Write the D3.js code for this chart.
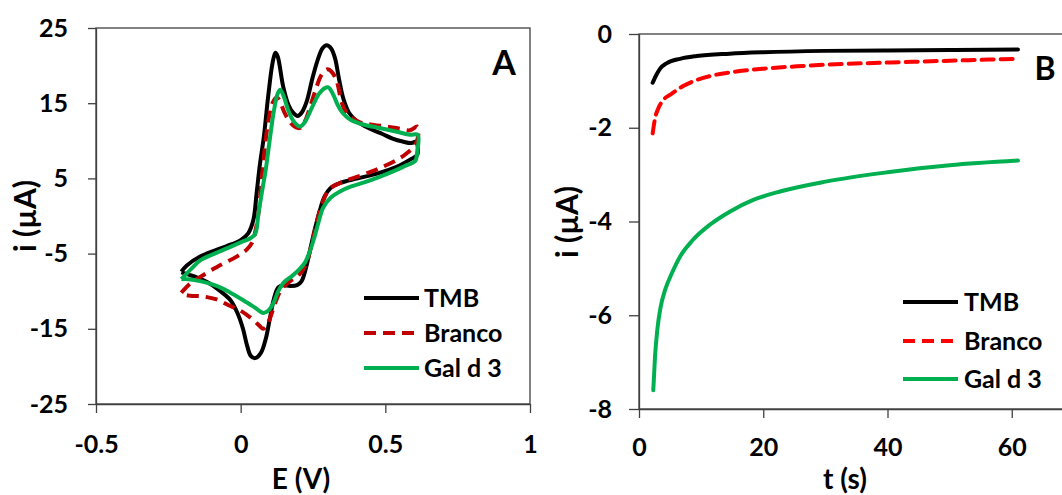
<!DOCTYPE html>
<html>
<head>
<meta charset="utf-8">
<script src="https://cdn.jsdelivr.net/npm/d3@7"></script>
<style>
  body { margin: 0; background: #fff; }
  text { font-family: Lato, "Open Sans", sans-serif; font-weight: bold; fill: #000; }
</style>
</head>
<body>
<script>
////// data

// panel A: cyclic voltammograms, [E (V), i (uA)], starting at the left vertex
const cvTMB = [[-0.205,-7.4],[-0.187,-6.6],[-0.14,-5.4],[-0.09,-4.6],[-0.048,-4.0],[0.0,-3.2],[0.026,-2.3],[0.044,-0.5],
  [0.055,3.0],[0.067,7.0],[0.08,10.5],[0.095,15.9],[0.11,20.3],[0.12,21.7],[0.128,21.2],[0.147,17.2],[0.165,14.8],
  [0.182,13.7],[0.197,13.3],[0.212,13.8],[0.228,15.2],[0.248,18.3],[0.265,20.6],[0.283,22.3],[0.297,22.7],[0.312,22.3],
  [0.326,21.0],[0.34,18.2],[0.355,15.6],[0.375,13.7],[0.405,12.5],[0.447,11.6],[0.49,10.9],[0.525,10.3],[0.56,9.9],
  [0.59,9.7],[0.608,9.9],[0.612,9.2],[0.61,8.1],[0.59,7.6],[0.537,6.5],[0.477,5.7],[0.405,5.0],[0.345,4.4],[0.31,3.7],
  [0.29,2.6],[0.274,0.8],[0.258,-1.5],[0.24,-4.5],[0.225,-7.0],[0.21,-8.7],[0.195,-9.2],[0.17,-9.3],[0.147,-9.2],
  [0.13,-9.5],[0.115,-11.0],[0.1,-13.8],[0.087,-16.3],[0.07,-18.2],[0.05,-18.9],[0.035,-18.6],[0.022,-17.2],
  [0.008,-15.0],[-0.01,-13.0],[-0.035,-11.2],[-0.07,-10.0],[-0.106,-9.0],[-0.15,-8.2],[-0.18,-7.8],[-0.205,-7.5]];

const cvBranco = [[-0.205,-10.2],[-0.175,-9.0],[-0.14,-8.1],[-0.083,-6.8],[-0.014,-5.4],[0.02,-4.5],[0.04,-3.5],
  [0.052,-1.8],[0.062,0.5],[0.072,4.5],[0.082,8.5],[0.095,12.5],[0.11,15.0],[0.125,15.8],[0.135,15.3],[0.152,13.7],
  [0.17,12.5],[0.19,11.8],[0.205,11.7],[0.222,12.6],[0.24,14.5],[0.26,16.9],[0.28,18.8],[0.3,19.5],[0.318,19.0],
  [0.333,17.8],[0.35,15.0],[0.37,13.5],[0.41,12.5],[0.46,12.1],[0.505,11.9],[0.55,11.6],[0.585,11.4],[0.61,11.9],
  [0.615,11.5],[0.605,9.6],[0.573,8.3],[0.537,7.4],[0.477,6.3],[0.417,5.4],[0.357,4.6],[0.31,3.7],[0.285,2.0],
  [0.265,-0.5],[0.245,-3.8],[0.225,-6.5],[0.2,-7.9],[0.17,-8.7],[0.14,-9.8],[0.12,-11.5],[0.105,-13.2],[0.09,-14.6],
  [0.078,-15.0],[0.065,-14.6],[0.04,-13.7],[0.0,-12.6],[-0.04,-11.9],[-0.083,-11.1],[-0.13,-10.7],[-0.175,-10.6],
  [-0.2,-10.4],[-0.205,-10.2]];

const cvGal = [[-0.205,-8.4],[-0.17,-7.0],[-0.14,-5.9],[-0.09,-5.0],[-0.048,-4.3],[0.0,-3.5],[0.032,-3.0],[0.05,-2.4],
  [0.062,0.5],[0.075,3.5],[0.088,6.5],[0.1,10.0],[0.115,14.0],[0.128,16.3],[0.137,16.8],[0.148,16.0],[0.165,14.0],
  [0.185,12.5],[0.205,11.9],[0.222,12.5],[0.245,14.3],[0.27,16.2],[0.29,17.0],[0.303,17.1],[0.318,16.3],[0.335,14.8],
  [0.355,13.6],[0.38,12.8],[0.42,12.2],[0.48,11.7],[0.54,11.2],[0.585,10.8],[0.612,10.8],[0.61,8.5],[0.603,7.3],
  [0.57,6.7],[0.537,6.1],[0.48,5.2],[0.43,4.5],[0.38,3.9],[0.345,3.3],[0.31,2.4],[0.285,1.1],[0.27,-0.7],[0.255,-2.8],
  [0.24,-4.6],[0.222,-6.2],[0.2,-7.2],[0.177,-8.0],[0.15,-8.8],[0.13,-10.0],[0.113,-11.6],[0.095,-12.6],[0.078,-12.9],
  [0.05,-12.2],[0.009,-11.2],[-0.04,-10.1],[-0.083,-9.3],[-0.136,-8.7],[-0.18,-8.4],[-0.205,-8.4]];

// panel B: chronoamperometry, [t (s), i (uA)]
const caTMB = [[2.2,-1.04],[2.5,-0.95],[2.85,-0.86],[3.4,-0.74],[4.5,-0.62],[6.6,-0.53],[9.3,-0.47],[14.6,-0.42],
  [20,-0.39],[30,-0.36],[40,-0.35],[50,-0.34],[61,-0.33]];
const caBranco = [[2.2,-2.12],[2.58,-1.8],[3.1,-1.59],[3.9,-1.41],[5.3,-1.27],[7.1,-1.11],[9.3,-0.98],[12,-0.88],
  [15.7,-0.8],[20,-0.74],[25.4,-0.69],[30.7,-0.65],[40,-0.61],[50,-0.57],[61,-0.53]];
const caGal = [[2.3,-7.6],[2.58,-6.88],[2.95,-6.31],[3.49,-5.82],[4.2,-5.46],[5.3,-5.1],[6.6,-4.75],[8.7,-4.39],
  [11.4,-4.07],[14.6,-3.79],[18.4,-3.54],[22.7,-3.36],[30,-3.15],[40,-2.95],[50,-2.8],[61,-2.7]];

const seriesNames = ["TMB", "Branco", "Gal d 3"];
const ticksA_x = [-0.5, 0, 0.5, 1];
const ticksA_y = [-25, -15, -5, 5, 15, 25];
const ticksB_x = [0, 20, 40, 60];
const ticksB_y = [-8, -6, -4, -2, 0];

//////

const axisColor = "#404040";

var svg = d3.select("body").append("svg")
    .attr("width", 1062)
    .attr("height", 495);

function styleAxis(g) {
    g.selectAll("path, line").attr("stroke", axisColor).attr("stroke-width", 1.3);
    g.selectAll("text").attr("font-size", 25).attr("fill", "#000");
}

////// panel A

const xA = d3.scaleLinear().domain([-0.5, 1]).range([96, 530]);
const yA = d3.scaleLinear().domain([-25, 25]).range([404, 28]);

svg.append("rect")
    .attr("x", xA(-0.5)).attr("y", yA(25))
    .attr("width", xA(1) - xA(-0.5)).attr("height", yA(-25) - yA(25))
    .attr("fill", "none").attr("stroke", axisColor).attr("stroke-width", 1.3);

svg.append("g")
    .attr("transform", `translate(${xA(-0.5)},0)`)
    .call(d3.axisLeft(yA).tickValues(ticksA_y).tickFormat(d => String(d)).tickSize(8).tickSizeOuter(0).tickPadding(20))
    .call(styleAxis);

svg.append("g")
    .attr("transform", `translate(0,${yA(-25)})`)
    .call(d3.axisBottom(xA).tickValues(ticksA_x).tickFormat(d => String(d)).tickSize(9).tickSizeOuter(0).tickPadding(22))
    .call(styleAxis);

const lineA = d3.line()
    .x(d => xA(d[0]))
    .y(d => yA(d[1]))
    .curve(d3.curveCatmullRom.alpha(0.5));

const colorsA = ["#000000", "#C00000", "#00B050"];
const dashA = [null, "12,7", null];
[cvTMB, cvBranco, cvGal].forEach((s, k) => {
    svg.append("path")
        .attr("d", lineA(s))
        .attr("fill", "none")
        .attr("stroke", colorsA[k])
        .attr("stroke-width", 4)
        .attr("stroke-linejoin", "round")
        .attr("stroke-dasharray", dashA[k]);
});

// legend A
const legA_y = [298, 333, 368];
seriesNames.forEach((name, k) => {
    svg.append("line")
        .attr("x1", 364).attr("x2", 419)
        .attr("y1", legA_y[k]).attr("y2", legA_y[k])
        .attr("stroke", colorsA[k]).attr("stroke-width", 4)
        .attr("stroke-dasharray", dashA[k]);
    svg.append("text")
        .attr("x", 424).attr("y", legA_y[k]).attr("dy", "0.36em")
        .attr("font-size", 25)
        .text(name);
});

svg.append("text").attr("x", 504).attr("y", 75).attr("text-anchor", "middle")
    .attr("font-size", 34).text("A");
svg.append("text").attr("x", 301).attr("y", 489).attr("text-anchor", "middle")
    .attr("font-size", 28).text("E (V)");
svg.append("text").attr("transform", "translate(36,216) rotate(-90)").attr("text-anchor", "middle")
    .attr("font-size", 30).text("i (µA)");

////// panel B

const xB = d3.scaleLinear().domain([0, 80]).range([639, 1136]);
const yB = d3.scaleLinear().domain([-8, 0]).range([409, 34]);

svg.append("rect")
    .attr("x", xB(0)).attr("y", yB(0))
    .attr("width", xB(80) - xB(0)).attr("height", yB(-8) - yB(0))
    .attr("fill", "none").attr("stroke", axisColor).attr("stroke-width", 1.3);

svg.append("g")
    .attr("transform", `translate(${xB(0)},0)`)
    .call(d3.axisLeft(yB).tickValues(ticksB_y).tickFormat(d => String(d)).tickSize(10).tickSizeOuter(0).tickPadding(17))
    .call(styleAxis);

svg.append("g")
    .attr("transform", `translate(0,${yB(-8)})`)
    .call(d3.axisBottom(xB).tickValues(ticksB_x).tickFormat(d => String(d)).tickSize(9).tickSizeOuter(0).tickPadding(20))
    .call(styleAxis);

const lineB = d3.line()
    .x(d => xB(d[0]))
    .y(d => yB(d[1]))
    .curve(d3.curveMonotoneX);

const colorsB = ["#000000", "#FF0000", "#00B050"];
const dashB = [null, "12,7", null];
[caTMB, caBranco, caGal].forEach((s, k) => {
    svg.append("path")
        .attr("d", lineB(s))
        .attr("fill", "none")
        .attr("stroke", colorsB[k])
        .attr("stroke-width", 4)
        .attr("stroke-linecap", "round")
        .attr("stroke-dasharray", dashB[k]);
});

const legB_y = [302, 341, 379];
seriesNames.forEach((name, k) => {
    svg.append("line")
        .attr("x1", 903).attr("x2", 958)
        .attr("y1", legB_y[k]).attr("y2", legB_y[k])
        .attr("stroke", colorsB[k]).attr("stroke-width", 4)
        .attr("stroke-dasharray", dashB[k]);
    svg.append("text")
        .attr("x", 964).attr("y", legB_y[k]).attr("dy", "0.36em")
        .attr("font-size", 25)
        .text(name);
});

svg.append("text").attr("x", 1045).attr("y", 80).attr("text-anchor", "middle")
    .attr("font-size", 32).text("B");
svg.append("text").attr("x", 845).attr("y", 489).attr("text-anchor", "middle")
    .attr("font-size", 28).text("t (s)");
svg.append("text").attr("transform", "translate(578,222) rotate(-90)").attr("text-anchor", "middle")
    .attr("font-size", 30).text("i (µA)");
</script>
</body>
</html>
